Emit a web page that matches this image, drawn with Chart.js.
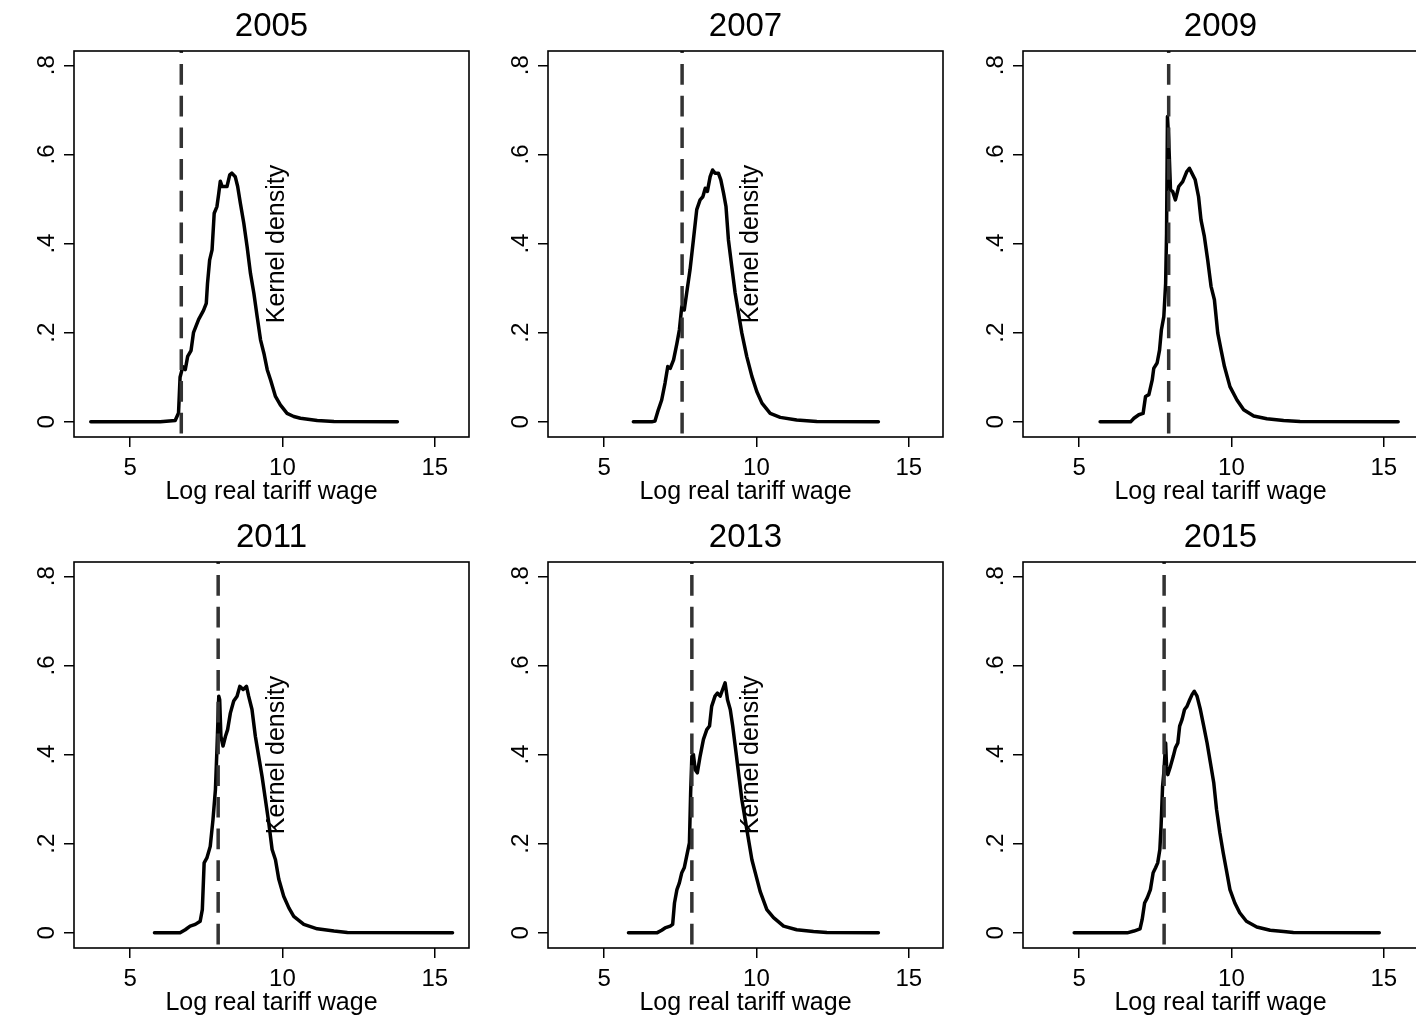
<!DOCTYPE html>
<html>
<head>
<meta charset="utf-8">
<script src="https://cdn.jsdelivr.net/npm/chart.js@4/dist/chart.umd.min.js"></script>
<style>
  html, body { margin: 0; padding: 0; background: #fff; overflow: hidden; width: 1416px; height: 1017px; }
  .panel { position: absolute; }
</style>
</head>
<body>
<div id="wrap"></div>
<script>
// ---------------- data ----------------
const years = ['2005', '2007', '2009', '2011', '2013', '2015'];
const cutoffs = [6.68, 7.56, 7.94, 7.89, 7.88, 7.79];

const x2005 = [3.71, 5.99, 6.48, 6.59, 6.64, 6.73, 6.81, 6.89, 7.00, 7.08, 7.25, 7.41, 7.50, 7.54, 7.61, 7.69, 7.76, 7.85, 7.91, 7.96, 8.02, 8.18, 8.27, 8.34, 8.45, 8.53, 8.62, 8.73, 8.84, 8.95, 9.06, 9.17, 9.28, 9.39, 9.50, 9.61, 9.77, 9.93, 10.15, 10.37, 10.59, 11.14, 11.69, 13.77];
const y2005 = [0, 0, 0.003, 0.02, 0.10, 0.124, 0.117, 0.147, 0.16, 0.20, 0.23, 0.25, 0.266, 0.31, 0.363, 0.386, 0.468, 0.483, 0.513, 0.54, 0.528, 0.528, 0.554, 0.558, 0.55, 0.528, 0.49, 0.446, 0.393, 0.333, 0.289, 0.236, 0.184, 0.154, 0.117, 0.094, 0.057, 0.038, 0.019, 0.012, 0.008, 0.003, 0.001, 0];

const x2007 = [5.96, 6.56, 6.67, 6.78, 6.89, 7.00, 7.09, 7.17, 7.28, 7.39, 7.47, 7.55, 7.63, 7.71, 7.82, 7.93, 8.04, 8.15, 8.24, 8.32, 8.39, 8.48, 8.56, 8.64, 8.75, 8.83, 8.92, 9.00, 9.08, 9.19, 9.30, 9.41, 9.52, 9.68, 9.85, 10.01, 10.18, 10.45, 10.78, 11.32, 11.98, 14.0];
const y2007 = [0, 0, 0.002, 0.027, 0.049, 0.087, 0.124, 0.12, 0.139, 0.176, 0.206, 0.259, 0.251, 0.289, 0.341, 0.408, 0.476, 0.498, 0.505, 0.524, 0.517, 0.55, 0.565, 0.558, 0.558, 0.543, 0.513, 0.483, 0.408, 0.348, 0.289, 0.244, 0.199, 0.147, 0.102, 0.068, 0.042, 0.019, 0.010, 0.004, 0.001, 0];

const x2009 = [5.69, 6.69, 6.80, 6.96, 7.10, 7.18, 7.29, 7.40, 7.45, 7.56, 7.64, 7.70, 7.78, 7.84, 7.87, 7.90, 7.94, 8.00, 8.07, 8.16, 8.27, 8.40, 8.53, 8.62, 8.70, 8.81, 8.92, 9.00, 9.11, 9.22, 9.33, 9.44, 9.55, 9.66, 9.77, 9.95, 10.18, 10.40, 10.73, 11.16, 11.71, 12.25, 15.47];
const y2009 = [0, 0, 0.008, 0.016, 0.019, 0.057, 0.061, 0.094, 0.12, 0.132, 0.161, 0.206, 0.236, 0.311, 0.423, 0.685, 0.633, 0.52, 0.517, 0.498, 0.528, 0.539, 0.561, 0.569, 0.558, 0.543, 0.505, 0.453, 0.416, 0.363, 0.304, 0.274, 0.199, 0.161, 0.124, 0.079, 0.049, 0.027, 0.013, 0.007, 0.003, 0.001, 0];

const x2011 = [5.80, 6.64, 6.81, 6.97, 7.14, 7.30, 7.37, 7.43, 7.52, 7.63, 7.72, 7.80, 7.85, 7.91, 7.94, 7.98, 8.05, 8.13, 8.20, 8.29, 8.40, 8.51, 8.60, 8.71, 8.82, 8.89, 9.00, 9.11, 9.22, 9.33, 9.44, 9.55, 9.66, 9.77, 9.88, 10.04, 10.21, 10.37, 10.70, 11.14, 11.69, 12.13, 15.58];
const y2011 = [0, 0, 0.007, 0.015, 0.019, 0.026, 0.052, 0.157, 0.168, 0.194, 0.254, 0.321, 0.411, 0.531, 0.523, 0.441, 0.419, 0.441, 0.456, 0.493, 0.520, 0.531, 0.553, 0.546, 0.553, 0.531, 0.501, 0.441, 0.396, 0.351, 0.299, 0.247, 0.187, 0.164, 0.120, 0.082, 0.056, 0.037, 0.019, 0.009, 0.004, 0.001, 0];

const x2013 = [5.80, 6.73, 6.89, 7.00, 7.17, 7.25, 7.31, 7.39, 7.47, 7.55, 7.63, 7.71, 7.80, 7.84, 7.88, 7.93, 7.99, 8.06, 8.15, 8.26, 8.37, 8.46, 8.53, 8.64, 8.72, 8.81, 8.89, 8.97, 9.05, 9.14, 9.22, 9.33, 9.41, 9.52, 9.63, 9.74, 9.85, 9.96, 10.12, 10.34, 10.56, 10.89, 11.32, 11.87, 12.31, 14.0];
const y2013 = [0, 0, 0.006, 0.011, 0.015, 0.019, 0.067, 0.097, 0.112, 0.135, 0.146, 0.172, 0.202, 0.314, 0.396, 0.4, 0.366, 0.359, 0.396, 0.434, 0.456, 0.464, 0.508, 0.531, 0.538, 0.531, 0.546, 0.561, 0.523, 0.501, 0.464, 0.404, 0.359, 0.299, 0.254, 0.209, 0.164, 0.135, 0.093, 0.052, 0.034, 0.015, 0.007, 0.003, 0.001, 0];

const x2015 = [4.84, 6.58, 6.80, 7.00, 7.07, 7.15, 7.24, 7.34, 7.43, 7.51, 7.58, 7.65, 7.69, 7.74, 7.78, 7.84, 7.87, 7.91, 8.00, 8.09, 8.16, 8.24, 8.30, 8.38, 8.46, 8.54, 8.63, 8.71, 8.78, 8.87, 8.98, 9.09, 9.20, 9.31, 9.42, 9.51, 9.62, 9.73, 9.83, 9.95, 10.11, 10.27, 10.49, 10.83, 11.27, 11.71, 12.03, 14.85];
const y2015 = [0, 0, 0.004, 0.009, 0.030, 0.067, 0.079, 0.097, 0.135, 0.146, 0.157, 0.187, 0.239, 0.329, 0.359, 0.426, 0.374, 0.355, 0.374, 0.396, 0.415, 0.426, 0.464, 0.479, 0.501, 0.508, 0.523, 0.535, 0.542, 0.531, 0.501, 0.464, 0.426, 0.381, 0.336, 0.277, 0.224, 0.179, 0.142, 0.097, 0.067, 0.045, 0.026, 0.013, 0.006, 0.003, 0.001, 0];

const xSeries = [x2005, x2007, x2009, x2011, x2013, x2015];
const ySeries = [y2005, y2007, y2009, y2011, y2013, y2015];

const xTickValues = [5, 10, 15];
const xTickLabels = ['5', '10', '15'];
const yTickValues = [0, 0.2, 0.4, 0.6, 0.8];
const yTickLabels = ['0', '.2', '.4', '.6', '.8'];
const X_MIN = 3.16, X_MAX = 16.12;
const Y_MIN = -0.034, Y_MAX = 0.832;
const xTitle = 'Log real tariff wage';
const yTitle = 'Kernel density';

// ---------------- layout ----------------
const FONT = "'Liberation Sans', Arial, Helvetica, sans-serif";
const colLeft = [0, 474, 949];
const rowTop = [0, 511];
const CW = 476, CH = 511;

const framePlugin = {
  id: 'frame',
  afterDraw(chart) {
    const { ctx, chartArea: a } = chart;
    ctx.save();
    ctx.strokeStyle = '#000';
    ctx.lineWidth = 1.6;
    ctx.strokeRect(a.left, a.top, a.right - a.left, a.bottom - a.top);
    ctx.restore();
  }
};

const kernelPlugin = {
  id: 'kernelLabel',
  afterDraw(chart, args, opts) {
    if (!opts.show) return;
    const { ctx, chartArea: a } = chart;
    ctx.save();
    ctx.translate(a.left + 203, (a.top + a.bottom) / 2);
    ctx.rotate(-Math.PI / 2);
    ctx.font = '25px ' + FONT;
    ctx.fillStyle = '#000';
    ctx.textAlign = 'center';
    ctx.textBaseline = 'middle';
    ctx.fillText(yTitle, 0, 0);
    ctx.restore();
  }
};

const wrap = document.getElementById('wrap');
years.forEach((yr, i) => {
  const col = i % 3, row = Math.floor(i / 3);
  const div = document.createElement('div');
  div.className = 'panel';
  div.style.left = colLeft[col] + 'px';
  div.style.top = rowTop[row] + 'px';
  div.style.width = CW + 'px';
  div.style.height = CH + 'px';
  const cv = document.createElement('canvas');
  cv.width = CW; cv.height = CH;
  cv.style.width = CW + 'px'; cv.style.height = CH + 'px';
  div.appendChild(cv);
  wrap.appendChild(div);

  const xs = xSeries[i], ys = ySeries[i];
  const pts = xs.map((x, k) => ({ x: x, y: ys[k] }));

  new Chart(cv, {
    type: 'scatter',
    data: {
      datasets: [
        {
          data: [{ x: cutoffs[i], y: Y_MAX }, { x: cutoffs[i], y: Y_MIN }],
          showLine: true,
          borderColor: '#333333',
          borderWidth: 3.5,
          borderDash: [20.7, 11],
          borderDashOffset: 18.7,
          pointRadius: 0,
          fill: false
        },
        {
          data: pts,
          showLine: true,
          borderColor: '#000000',
          borderWidth: 3.5,
          borderJoinStyle: 'round',
          borderCapStyle: 'round',
          pointRadius: 0,
          tension: 0,
          fill: false
        }
      ]
    },
    options: {
      responsive: false,
      animation: false,
      devicePixelRatio: 1,
      events: [],
      layout: { padding: { left: 0, right: 7, top: 0, bottom: 0 } },
      plugins: {
        legend: { display: false },
        tooltip: { enabled: false },
        title: {
          display: true,
          text: yr,
          color: '#000',
          fullSize: false,
          font: { size: 33, family: FONT, weight: 'normal', lineHeight: 1.2 },
          padding: { top: 6.7, bottom: 4.7 }
        },
        kernelLabel: { show: col < 2 }
      },
      scales: {
        x: {
          type: 'linear',
          min: X_MIN, max: X_MAX,
          afterBuildTicks: s => { s.ticks = xTickValues.map(v => ({ value: v })); },
          afterFit: s => { s.height = 74; },
          ticks: {
            color: '#000',
            font: { size: 24, family: FONT },
            padding: 7,
            maxRotation: 0, minRotation: 0,
            autoSkip: false,
            callback: (v, idx) => xTickLabels[idx]
          },
          grid: { drawOnChartArea: false, drawTicks: true, tickLength: 10, color: '#000', lineWidth: 1.5 },
          border: { display: false },
          title: {
            display: true, text: xTitle, color: '#000',
            font: { size: 25, family: FONT, lineHeight: 1.2 },
            padding: { top: 0, bottom: 3.6 }
          }
        },
        y: {
          type: 'linear',
          min: Y_MIN, max: Y_MAX,
          afterBuildTicks: s => { s.ticks = yTickValues.map(v => ({ value: v })); },
          afterFit: s => { s.width = 74; },
          ticks: {
            color: '#000',
            font: { size: 24, family: FONT },
            padding: 6.3,
            minRotation: 90, maxRotation: 90,
            crossAlign: 'center',
            autoSkip: false,
            callback: (v, idx) => yTickLabels[idx]
          },
          grid: { drawOnChartArea: false, drawTicks: true, tickLength: 10, color: '#000', lineWidth: 1.5 },
          border: { display: false }
        }
      }
    },
    plugins: [framePlugin, kernelPlugin]
  });
});
</script>
</body>
</html>
